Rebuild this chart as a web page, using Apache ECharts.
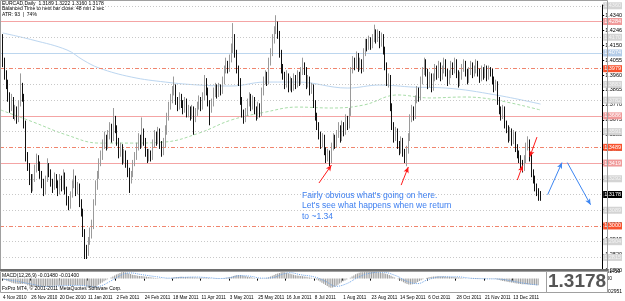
<!DOCTYPE html>
<html>
<head>
<meta charset="utf-8">
<script src="https://cdn.jsdelivr.net/npm/echarts@6/dist/echarts.min.js"></script>
<style>
html,body{margin:0;padding:0;background:#fff;}
#eurcad_chart{width:625px;height:301px;}
</style>
</head>
<body>
<div id="eurcad_chart"></div>
<script>
// daily bars in pips: [open, close, low, high]
const candlesPips = [
[14230,14160,14130,14250],[14160,14040,14010,14220],[14040,13960,13930,14070],[13960,13900,13870,13990],[13900,13820,13790,13930],[13820,13760,13720,13850],
[13760,13800,13730,13840],[13800,13700,13680,13820],[13700,13740,13670,13770],[13740,13680,13650,13760],[13680,13780,13660,13800],[13780,13880,13760,13970],
[13880,13820,13790,13910],[13820,13650,13620,13840],[13650,13440,13410,13670],[13440,13380,13350,13470],[13380,13300,13260,13400],[13300,13240,13210,13330],
[13240,13300,13220,13330],[13300,13360,13280,13390],[13360,13420,13340,13460],[13420,13380,13350,13450],[13380,13330,13300,13410],[13330,13270,13240,13350],
[13270,13220,13190,13300],[13220,13300,13200,13320],[13300,13380,13280,13430],[13380,13340,13310,13400],[13340,13280,13250,13360],[13280,13250,13210,13300],
[13250,13310,13230,13340],[13310,13270,13240,13330],[13270,13220,13190,13290],[13220,13300,13200,13330],[13300,13250,13220,13320],[13250,13320,13230,13360],
[13320,13230,13200,13340],[13230,13160,13130,13250],[13160,13120,13100,13190],[13120,13200,13110,13220],[13200,13260,13180,13290],[13260,13300,13240,13360],
[13300,13220,13190,13320],[13220,13250,13200,13280],[13250,13150,13120,13270],[13150,13100,13060,13170],[13100,12960,12930,13110],[12960,12850,12790,12980],
[12850,12830,12790,12880],[12830,12900,12810,12930],[12900,12950,12880,12990],[12950,13000,12920,13040],[13000,13150,12980,13170],[13150,13250,13130,13290],
[13250,13320,13230,13350],[13320,13400,13300,13430],[13400,13440,13380,13480],[13440,13520,13420,13550],[13520,13560,13490,13600],[13560,13510,13480,13580],
[13510,13580,13490,13610],[13580,13620,13550,13660],[13620,13560,13530,13650],[13560,13680,13540,13750],[13680,13620,13590,13700],[13620,13540,13510,13640],
[13540,13460,13430,13560],[13460,13500,13440,13530],[13500,13420,13390,13520],[13420,13460,13400,13490],[13460,13400,13370,13480],[13400,13350,13310,13420],
[13350,13290,13210,13370],[13290,13330,13270,13350],[13330,13400,13310,13420],[13400,13440,13380,13470],[13440,13500,13420,13530],[13500,13560,13480,13590],
[13560,13520,13490,13580],[13520,13600,13500,13690],[13600,13540,13510,13620],[13540,13470,13440,13560],[13470,13430,13400,13490],[13430,13460,13410,13490],
[13460,13440,13410,13480],[13440,13520,13420,13550],[13520,13580,13500,13610],[13580,13540,13510,13600],[13540,13600,13520,13630],[13600,13520,13490,13620],
[13520,13470,13440,13540],[13470,13520,13450,13560],[13520,13600,13500,13640],[13600,13690,13580,13720],[13690,13760,13670,13790],[13760,13800,13740,13840],
[13800,13860,13780,13890],[13860,13880,13830,13950],[13880,13800,13770,13900],[13800,13760,13730,13820],[13760,13820,13740,13850],[13820,13780,13750,13840],
[13780,13740,13710,13800],[13740,13790,13720,13820],[13790,13720,13690,13810],[13720,13740,13690,13770],[13740,13700,13670,13760],[13700,13740,13680,13770],
[13740,13690,13580,13760],[13690,13720,13660,13750],[13720,13760,13700,13790],[13760,13800,13740,13830],[13800,13760,13730,13820],[13760,13820,13740,13850],
[13820,13920,13800,13960],[13920,13860,13830,13940],[13860,13790,13760,13880],[13790,13740,13640,13800],[13740,13780,13720,13810],[13780,13850,13760,13880],
[13850,13880,13820,13910],[13880,13840,13810,13900],[13840,13880,13820,13910],[13880,13860,13830,13900],[13860,13920,13840,13950],[13920,13990,13900,14020],
[13990,14030,13970,14070],[14030,14000,13970,14050],[14000,14060,13980,14090],[14060,14120,14040,14160],[14120,14200,14100,14290],[14200,14100,14070,14220],
[14100,14000,13970,14120],[14000,13920,13890,14020],[13920,13800,13770,13940],[13800,13720,13690,13820],[13720,13680,13650,13740],[13680,13720,13660,13750],
[13720,13780,13700,13810],[13780,13820,13760,13850],[13820,13760,13730,13840],[13760,13800,13740,13830],[13800,13740,13710,13820],[13740,13700,13670,13760],
[13700,13760,13680,13790],[13760,13720,13690,13780],[13720,13850,13700,13880],[13850,13920,13830,13950],[13920,13960,13900,13990],[13960,13920,13890,13980],
[13920,14040,13900,14070],[14040,14100,14020,14130],[14100,14180,14080,14220],[14180,14240,14160,14270],[14240,14280,14220,14340],[14280,14220,14190,14300],
[14220,14100,14070,14240],[14100,14000,13970,14120],[14000,13960,13930,14030],[13960,13900,13870,13980],[13900,13960,13880,13990],[13960,13880,13850,13970],
[13880,13920,13860,13950],[13920,13880,13850,13940],[13880,13940,13860,13970],[13940,13900,13870,13960],[13900,13960,13880,13990],[13960,13920,13890,13980],
[13920,13980,13900,14010],[13980,14020,13960,14070],[14020,13990,13960,14040],[13990,13900,13870,14010],[13900,13930,13880,13960],[13930,13860,13830,13950],
[13860,13880,13840,13910],[13880,13780,13750,13900],[13780,13700,13670,13800],[13700,13640,13610,13720],[13640,13580,13550,13660],[13580,13520,13490,13600],
[13520,13560,13500,13590],[13560,13480,13450,13580],[13480,13430,13400,13500],[13430,13460,13410,13490],[13460,13420,13380,13480],[13420,13500,13400,13530],
[13500,13560,13480,13590],[13560,13520,13490,13580],[13520,13580,13500,13610],[13580,13620,13560,13660],[13620,13560,13530,13640],[13560,13640,13540,13670],
[13640,13600,13570,13660],[13600,13680,13580,13710],[13680,13640,13610,13700],[13640,13720,13620,13750],[13720,13990,13700,14010],[13990,14050,13970,14080],
[14050,14020,13990,14070],[14020,14080,14000,14110],[14080,14010,13980,14100],[14010,14040,13990,14070],[14040,14000,13970,14060],[14000,14100,13980,14130],
[14100,14160,14080,14190],[14160,14140,14110,14190],[14140,14180,14120,14210],[14180,14150,14120,14200],[14150,14190,14130,14220],[14190,14230,14170,14280],
[14230,14190,14160,14250],[14190,14220,14170,14250],[14220,14160,14130,14240],[14160,14200,14140,14230],[14200,14120,14090,14220],[14120,14020,13990,14140],
[14020,13920,13890,14040],[13920,13940,13880,13970],[13940,13760,13730,13960],[13760,13640,13610,13780],[13640,13560,13530,13660],[13560,13600,13540,13630],
[13600,13520,13490,13620],[13520,13480,13450,13540],[13480,13540,13460,13570],[13540,13470,13440,13560],[13470,13430,13400,13490],[13430,13480,13380,13510],
[13480,13560,13460,13590],[13560,13680,13540,13710],[13680,13740,13660,13770],[13740,13700,13670,13760],[13700,13800,13680,13830],[13800,13860,13780,13890],
[13860,13820,13790,13880],[13820,13920,13800,13950],[13920,13980,13900,14010],[13980,14040,13960,14070],[14040,13980,13950,14060],[13980,13900,13870,14000],
[13900,13950,13880,13980],[13950,13880,13850,13970],[13880,13940,13860,13970],[13940,14000,13920,14030],[14000,13960,13930,14020],[13960,14020,13940,14050],
[14020,13950,13920,14040],[13950,13990,13930,14020],[13990,14040,13970,14070],[14040,13980,13950,14060],[13980,13920,13890,14000],[13920,13960,13900,13990],
[13960,14020,13940,14050],[14020,13990,13960,14040],[13990,14040,13970,14070],[14040,13970,13940,14060],[13970,13910,13880,13990],[13910,13950,13890,13980],
[13950,14000,13930,14030],[14000,14030,13980,14060],[14030,13980,13950,14050],[13980,13930,13900,14000],[13930,13980,13910,14010],[13980,14020,13960,14050],
[14020,13970,13940,14040],[13970,13990,13950,14020],[13990,14030,13970,14060],[14030,13980,13950,14050],[13980,13940,13910,14000],[13940,13990,13920,14020],
[13990,13960,13930,14010],[13960,14000,13940,14030],[14000,13950,13920,14020],[13950,13990,13930,14020],[13990,13980,13950,14010],[13980,13930,13900,14000],
[13930,13880,13850,13950],[13880,13900,13860,13930],[13900,13800,13770,13920],[13800,13740,13710,13820],[13740,13700,13670,13760],[13700,13740,13680,13770],
[13740,13650,13620,13760],[13650,13620,13590,13670],[13620,13560,13530,13640],[13560,13600,13540,13630],[13600,13540,13510,13620],[13540,13580,13520,13610],
[13580,13500,13470,13600],[13500,13460,13430,13520],[13460,13430,13400,13480],[13430,13400,13360,13450],[13400,13370,13340,13420],[13370,13420,13350,13450],
[13420,13500,13400,13530],[13500,13530,13480,13570],[13530,13440,13410,13550],[13440,13340,13310,13460],[13340,13300,13270,13360],[13300,13250,13220,13320],
[13250,13220,13190,13270],[13220,13189,13160,13240],[13189,13178,13160,13222]
];

// MACD(12,26,9) main values, in 0.0001
const macdMain = [
-20,-30,-45,-60,-75,-90,-100,-110,-115,-120,-120,-115,-115,-125,-145,-160,
-170,-180,-185,-185,-180,-178,-176,-176,-176,-172,-165,-160,-158,-158,-155,-153,-153,-150,
-150,-145,-146,-150,-155,-152,-148,-142,-142,-140,-145,-150,-165,-180,-195,-200,-200,
-195,-180,-160,-135,-110,-85,-60,-35,-15,5,25,
45,70,90,110,125,140,145,140,130,
115,100,88,80,72,65,60,55,52,48,42,35,28,22,18,15,12,10,6,2,0,-2,-1,
5,15,25,32,36,38,40,40,38,36,34,32,30,28,25,22,20,18,17,18,
20,18,12,6,2,-2,-4,-3,-1,2,6,
12,20,26,34,42,55,70,78,80,78,70,
60,50,42,35,28,20,12,5,0,-4,
-3,2,8,18,30,45,62,80,100,115,125,140,145,140,130,
118,105,95,85,75,68,62,58,55,48,40,32,25,18,8,-5,-20,
-40,-65,-90,-115,-140,-165,-190,-200,-195,-180,-160,-135,-110,-85,-60,-40,-20,0,20,45,70,95,115,130,140,
140,143,145,145,145,144,145,145,142,138,133,127,120,110,97,80,62,43,24,
5,-15,-35,-60,-80,-100,-120,-130,-130,-125,-115,
-95,-75,-55,-35,-15,0,15,25,35,40,45,48,50,50,48,46,44,42,40,38,36,34,30,
26,22,18,14,10,6,2,0,-2,-4,-5,-6,-6,-5,-4,-4,-4,-3,-2,-2,-3,-5,
-10,-20,-30,-40,-50,-58,-66,-72,-80,-86,-92,-100,-108,-115,-120,-124,-126,-125,-127,-132,-136,-140,-143,-146,-148
];

// signal line read at a few bars: [bar, value in 0.0001]
const macdSignal = [
[0,-10],[8,-60],[16,-120],[24,-175],[32,-160],[40,-150],[48,-160],[52,-185],[56,-150],[60,-70],
[64,20],[68,100],[72,125],[78,90],[86,45],[94,10],[100,25],[108,35],[116,20],[122,2],
[128,20],[134,65],[140,50],[146,10],[152,20],[158,100],[162,130],[168,85],[176,35],[182,-60],
[188,-170],[194,-110],[200,20],[206,110],[214,140],[222,60],[228,-60],[234,-110],[240,-20],[248,40],
[256,40],[264,8],[272,-4],[280,-10],[288,-60],[296,-115],[302,-140]
];

// moving averages read at a few bars: [bar, pips]
const maSlow = [
[1,14227],[18,14182],[37,14119],[46,14055],[55,14004],[73,13947],[92,13915],[111,13896],[129,13890],
[148,13915],[166,13915],[194,13877],[212,13896],[231,13883],[249,13877],[277,13833],[302,13775]
];
const maFast = [
[0,13737],[18,13661],[37,13578],[55,13527],[73,13527],[92,13534],[111,13591],[129,13674],[148,13724],
[166,13756],[185,13750],[203,13769],[222,13833],[240,13814],[259,13820],[277,13801],[302,13737]
];

const dateLabels = ['4 Nov 2010','26 Nov 2010','20 Dec 2010','11 Jan 2011','2 Feb 2011','24 Feb 2011',
  '18 Mar 2011','11 Apr 2011','3 May 2011','25 May 2011','16 Jun 2011','8 Jul 2011','1 Aug 2011',
  '23 Aug 2011','14 Sep 2011','6 Oct 2011','28 Oct 2011','21 Nov 2011','13 Dec 2011'];

const priceTicks = [1.4405,1.4340,1.4246,1.4150,1.4055,1.3960,1.3865,1.3770,1.3675,1.3580,1.3485,
  1.3390,1.3295,1.3200,1.3105,1.3010,1.2915,1.2820,1.2720];
const macdTicks = [0.01459, 0, -0.02951];

// horizontal line objects
const levelsSolid = [1.4284, 1.3686, 1.3419];
const levelsDashDot = [1.3979, 1.3489, 1.3000];
const levelsBlue = [1.4074];
const levelsGrey = [1.4360, 1.4170, 1.3883, 1.3782, 1.3591, 1.3292, 1.3197, 1.3089, 1.2904, 1.2815];
const lastPrice = 1.3178;

// arrows: [[barFrom, priceFrom], [barTo, priceTo]]
const arrowsRed = [
  [[178, 1.3273], [185, 1.3387]],
  [[224, 1.3260], [228, 1.3375]],
  [[289, 1.3292], [292, 1.3385]],
  [[300, 1.3565], [296, 1.3440]]
];
const arrowsBlue = [
  [[306, 1.3199], [314, 1.3403]],
  [[317, 1.3403], [330, 1.3135]]
];

const noteLines = ["Fairly obvious what's going on here.", "Let's see what happens when we return", "to ~1.34"];

// weekday calendar from the first bar, plus empty room on the right
const months = ['Jan','Feb','Mar','Apr','May','Jun','Jul','Aug','Sep','Oct','Nov','Dec'];
const categories = [];
const day = new Date(Date.UTC(2010, 10, 4));
while (categories.length < 337) {
    const wd = day.getUTCDay();
    if (wd !== 0 && wd !== 6) {
        categories.push(day.getUTCDate() + ' ' + months[day.getUTCMonth()] + ' ' + day.getUTCFullYear());
    }
    day.setUTCDate(day.getUTCDate() + 1);
}
const labelSet = new Set(dateLabels);

const candles = candlesPips.map(r => r.map(v => v / 10000));
const font = 'Liberation Sans, Arial, sans-serif';

function levelLine(v, color, type, bg, txt) {
    return {
        yAxis: v,
        lineStyle: { color: color, type: type, width: 1 },
        label: {
            show: true, position: 'end', distance: 1, formatter: v.toFixed(4),
            backgroundColor: bg, color: txt, fontSize: 5.5, fontFamily: font,
            padding: [1, 1, 0, 1], lineHeight: 6
        }
    };
}

const levelData = []
    .concat(levelsGrey.map(v => levelLine(v, '#c8c8c8', [1, 2], '#d4d4d4', '#f4f4f4')))
    .concat(levelsBlue.map(v => levelLine(v, '#bcd6ee', 'solid', '#b4cce8', '#fff')))
    .concat(levelsSolid.map(v => levelLine(v, '#f4a4a4', 'solid', '#f09a9a', '#fff')))
    .concat(levelsDashDot.map(v => levelLine(v, '#f0856e', [4, 2, 1, 2], '#f8522e', '#fff')));
levelData.push({
    yAxis: lastPrice,
    lineStyle: { color: 'rgba(0,0,0,0)', width: 0 },
    label: {
        show: true, position: 'end', distance: 1, formatter: lastPrice.toFixed(4),
        backgroundColor: '#000', color: '#fff', fontSize: 5.5, fontFamily: font,
        padding: [1, 1, 0, 1], lineHeight: 6
    }
});

function arrowData(list, color) {
    return list.map(a => [
        { coord: a[0], lineStyle: { color: color, width: 1, type: 'solid' } },
        { coord: a[1] }
    ]);
}

let chart = echarts.init(document.getElementById('eurcad_chart'));
chart.setOption({
    animation: false,
    backgroundColor: '#fff',
    grid: [
        { left: 0, width: 607, top: 5, height: 265 },
        { left: 0, width: 607, top: 272, height: 20 }
    ],
    xAxis: [
        {
            type: 'category', gridIndex: 0, data: categories, boundaryGap: true,
            axisLine: { show: false }, axisTick: { show: false }, axisLabel: { show: false },
            splitLine: { show: false }
        },
        {
            type: 'category', gridIndex: 1, data: categories, boundaryGap: true,
            axisLine: { show: false },
            axisTick: {
                show: true, length: 2, lineStyle: { color: '#000' },
                interval: (i, v) => labelSet.has(v)
            },
            axisLabel: {
                interval: 0, fontSize: 4.6, fontFamily: font, color: '#000', margin: 3, align: 'left',
                formatter: v => labelSet.has(v) ? v : ''
            },
            splitLine: { show: false }
        }
    ],
    yAxis: [
        {
            type: 'value', gridIndex: 0, position: 'right', min: 1.2720, max: 1.4405,
            splitLine: { show: false },
            axisLine: { show: true, lineStyle: { color: '#000' } },
            axisTick: { show: true, length: 2, customValues: priceTicks, lineStyle: { color: '#000' } },
            axisLabel: {
                customValues: priceTicks, formatter: v => v.toFixed(4),
                fontSize: 5.5, fontFamily: font, color: '#000', margin: 3
            }
        },
        {
            type: 'value', gridIndex: 1, position: 'right', min: -0.02951, max: 0.01459,
            splitLine: { show: false },
            axisLine: { show: true, lineStyle: { color: '#000' } },
            axisTick: { show: true, length: 2, customValues: macdTicks, lineStyle: { color: '#000' } },
            axisLabel: {
                customValues: macdTicks, formatter: v => v === 0 ? '0.00' : v.toFixed(5),
                fontSize: 5, fontFamily: font, color: '#000', margin: 3
            }
        }
    ],
    series: [
        {
            name: 'MA slow', type: 'line', xAxisIndex: 0, yAxisIndex: 0,
            data: maSlow.map(p => [p[0], p[1] / 10000]),
            smooth: 0.4, showSymbol: false, silent: true,
            lineStyle: { color: '#bcd6f0', width: 1 }, z: 1
        },
        {
            name: 'MA fast', type: 'line', xAxisIndex: 0, yAxisIndex: 0,
            data: maFast.map(p => [p[0], p[1] / 10000]),
            smooth: 0.4, showSymbol: false, silent: true,
            lineStyle: { color: '#a8dca8', width: 1, type: [3, 2] }, z: 1
        },
        {
            name: 'EURCAD', type: 'candlestick', xAxisIndex: 0, yAxisIndex: 0,
            data: candles, barMaxWidth: 1.6, z: 3,
            itemStyle: { color: '#9a9a9a', color0: '#111', borderColor: '#9a9a9a', borderColor0: '#111', borderWidth: 1 },
            markLine: {
                silent: true, symbol: ['none', 'none'], animation: false, z: 2,
                data: levelData
            }
        },
        {
            name: 'arrows', type: 'line', xAxisIndex: 0, yAxisIndex: 0, data: [], z: 5,
            markLine: {
                silent: true, animation: false, symbol: ['none', 'arrow'], symbolSize: [4, 6],
                label: { show: false },
                data: arrowData(arrowsRed, '#ff1a1a').concat(arrowData(arrowsBlue, '#3d86f2'))
            }
        },
        {
            name: 'MACD', type: 'bar', xAxisIndex: 1, yAxisIndex: 1,
            data: macdMain.map(v => v / 10000), barWidth: 1.1,
            itemStyle: { color: '#a0a0a0' }, silent: true
        },
        {
            name: 'Signal', type: 'line', xAxisIndex: 1, yAxisIndex: 1,
            data: macdSignal.map(p => [p[0], p[1] / 10000]),
            smooth: 0.4, showSymbol: false, silent: true,
            lineStyle: { color: '#6fa4e6', width: 1, type: [1, 1] }, z: 4
        }
    ],
    graphic: [
        { type: 'rect', silent: true, shape: { x: 0.5, y: 0.5, width: 607, height: 269 }, style: { fill: 'none', stroke: '#a0a0a0' }, z: 10 },
        { type: 'rect', silent: true, shape: { x: 0, y: 269, width: 608, height: 2 }, style: { fill: '#6e6e6e' }, z: 10 },
        { type: 'rect', silent: true, shape: { x: 0.5, y: 271.5, width: 607, height: 21 }, style: { fill: 'none', stroke: '#a0a0a0' }, z: 10 },
        { type: 'text', silent: true, left: 2, top: 1, z: 11, style: { text: 'EURCAD,Daily  1.3189 1.3222 1.3160 1.3178', fontSize: 5, fontFamily: font, fill: '#000' } },
        { type: 'text', silent: true, left: 2, top: 6.5, z: 11, style: { text: 'Balanced Time to next bar close: 48 min 2 sec', fontSize: 5, fontFamily: font, fill: '#000' } },
        { type: 'text', silent: true, left: 2, top: 12, z: 11, style: { text: 'ATR: 93  |  74%', fontSize: 5, fontFamily: font, fill: '#000' } },
        { type: 'text', silent: true, left: 302, top: 190, z: 11, style: { text: noteLines.join('\n'), fontSize: 8.5, lineHeight: 10.5, fontFamily: font, fill: '#3d7ff0' } },
        { type: 'text', silent: true, left: 2, top: 273, z: 11, style: { text: 'MACD(12,26,9) -0.01480 -0.01400', fontSize: 5, fontFamily: font, fill: '#000' } },
        { type: 'text', silent: true, left: 2, top: 286, z: 11, style: { text: 'FxPro MT4, © 2001-2011 MetaQuotes Software Corp.', fontSize: 5, fontFamily: font, fill: '#000' } },
        { type: 'rect', silent: true, shape: { x: 546.5, y: 271.5, width: 61, height: 21 }, style: { fill: '#fff', stroke: '#a0a0a0' }, z: 11 },
        { type: 'text', silent: true, left: 548, top: 272, z: 12, style: { text: lastPrice.toFixed(4), fontSize: 19, fontWeight: 'bold', fontFamily: font, fill: '#555' } }
    ]
});

window.addEventListener('resize', function () {
    chart.resize();
});
</script>
</body>
</html>
